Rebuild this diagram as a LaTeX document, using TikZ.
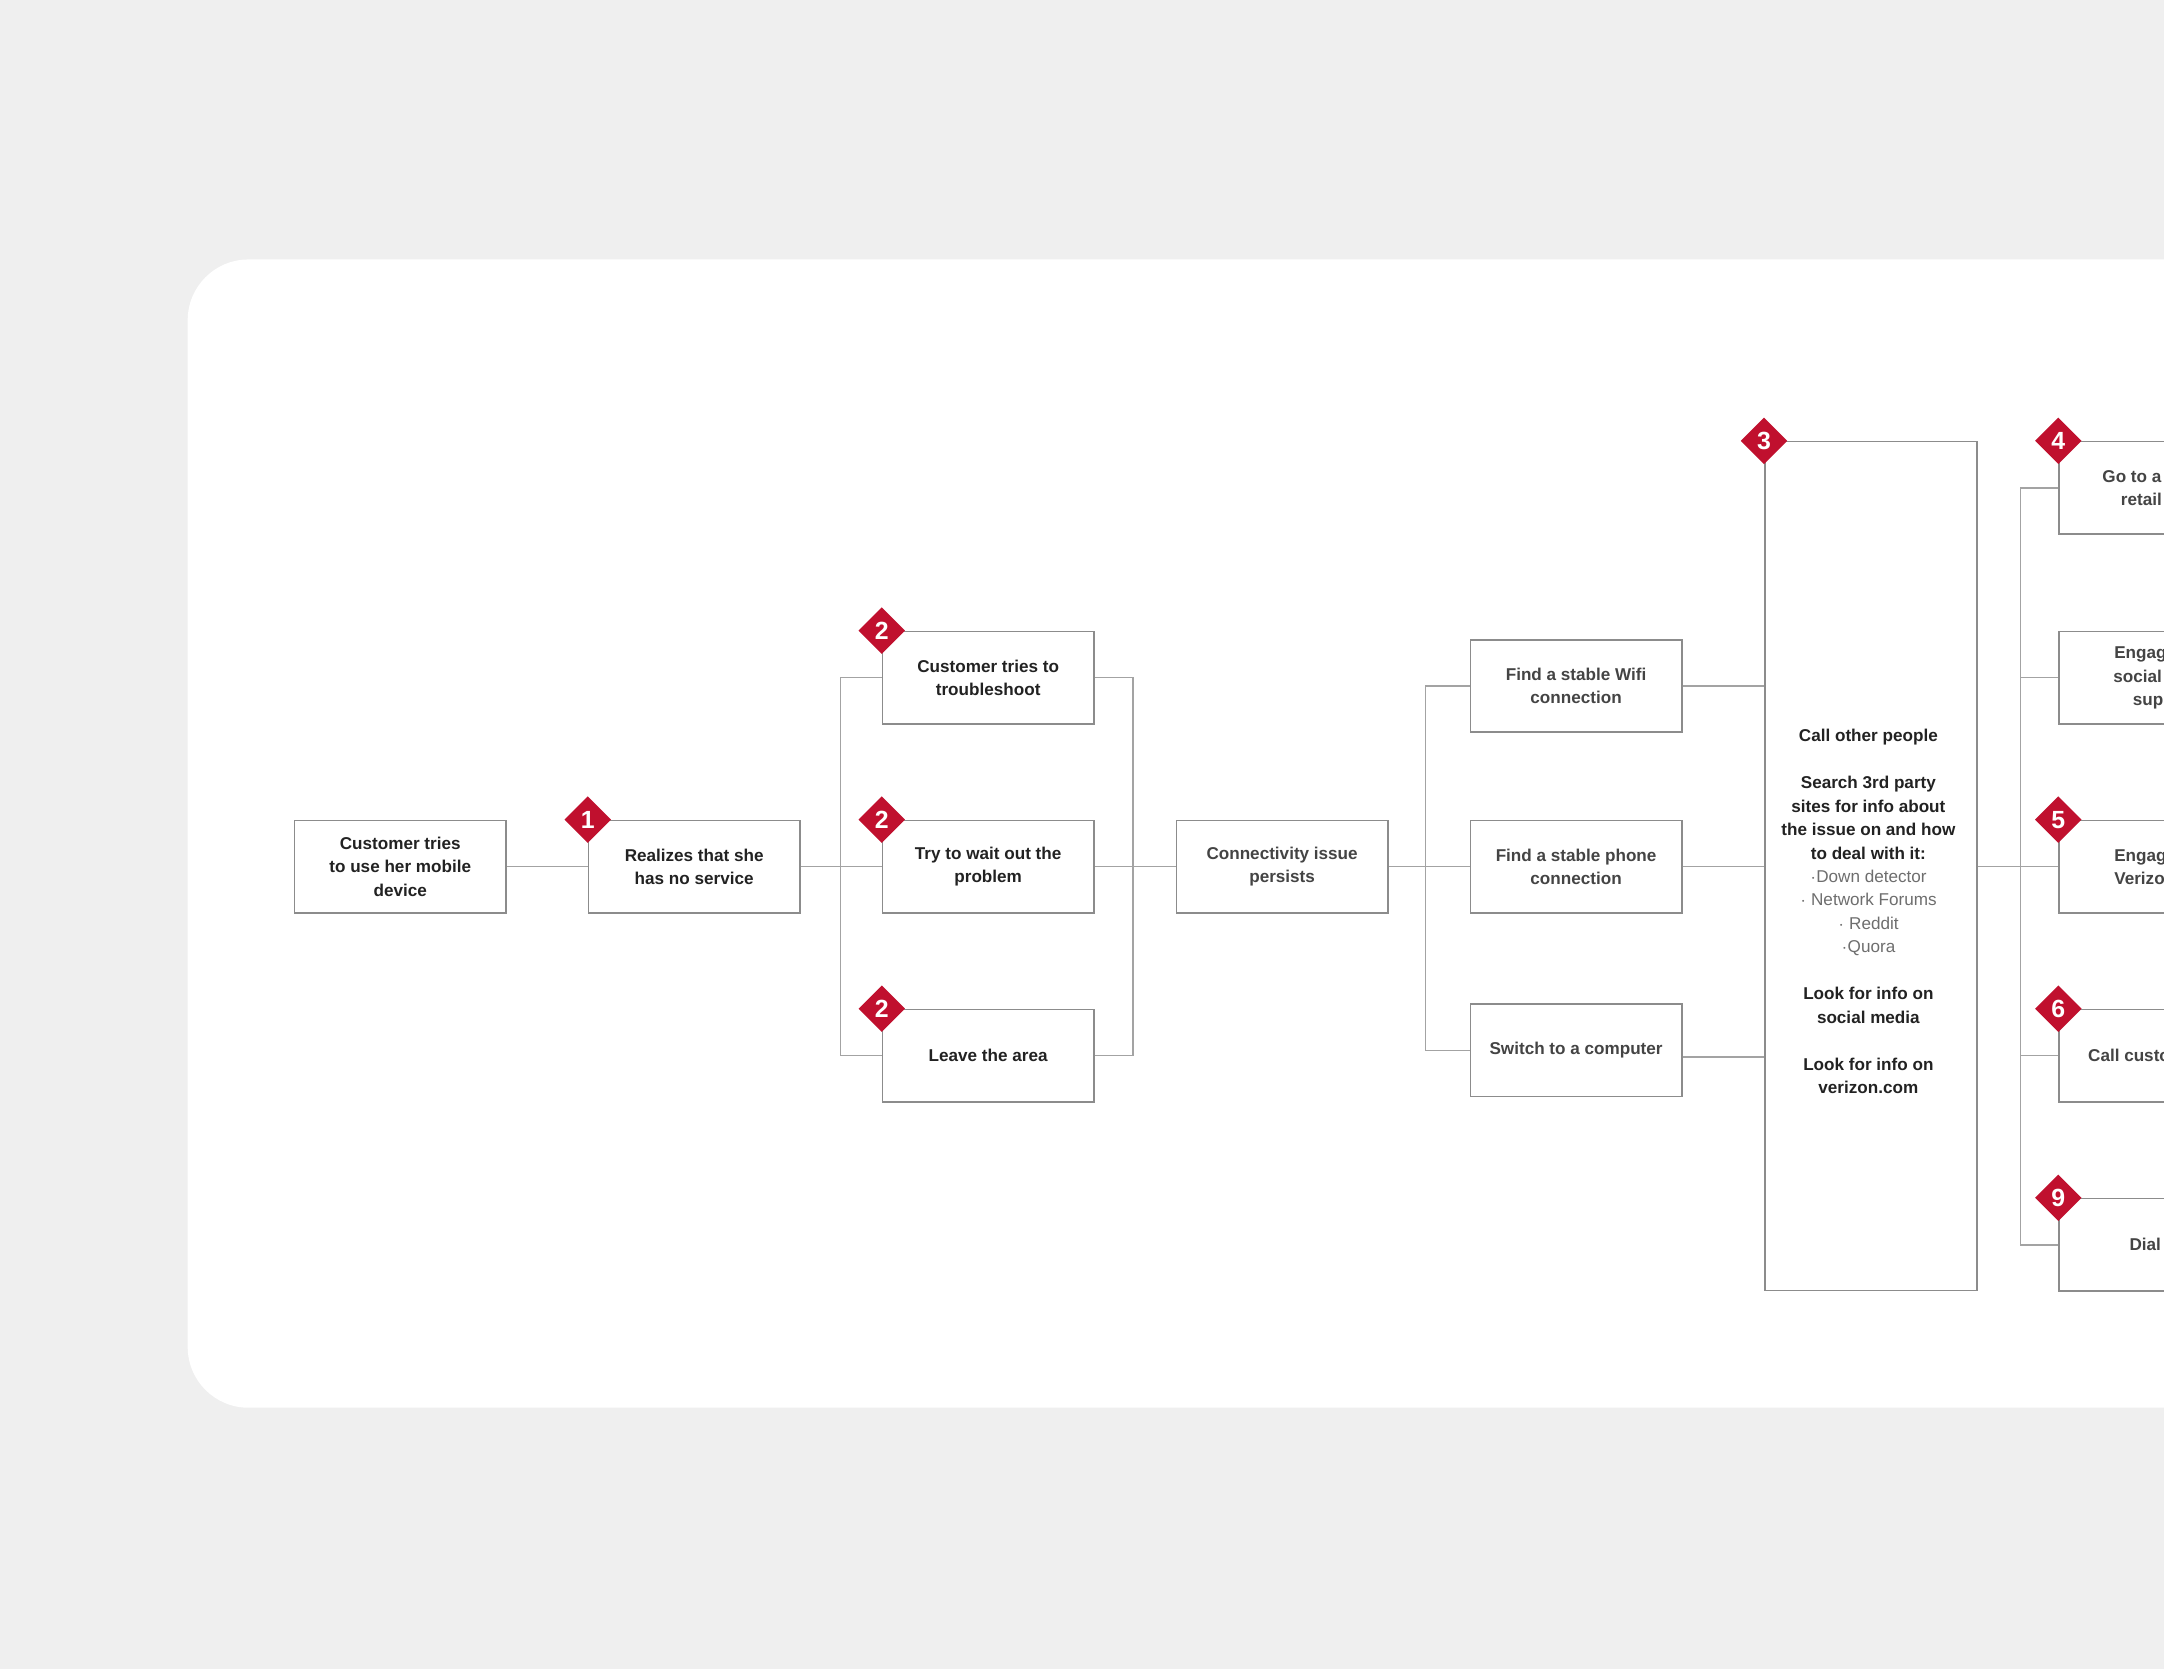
\documentclass[tikz,border=0pt]{standalone}
\usepackage{fontspec}
\setmainfont{Liberation Sans}
\usetikzlibrary{positioning,shapes.geometric}
\definecolor{vzred}{HTML}{C0102E}
\definecolor{pagebg}{HTML}{EFEFEF}
\definecolor{boxline}{HTML}{8C8C8C}
\definecolor{inktxt}{HTML}{222222}
\definecolor{softtxt}{HTML}{444444}
\definecolor{bullettxt}{HTML}{6E6E6E}
\begin{document}
\begin{tikzpicture}[x=0.5pt,y=-0.5pt]
		\tikzset{
  state/.style={
         rectangle,
         draw=boxline, line width=0.6pt,
         fill=white,
         minimum width=76.5pt,
         minimum height=33.5pt,
         inner sep=0,
         align=center,
         text=inktxt,
         font=\fontsize{6.2}{8.5}\selectfont\bfseries,
         },
  soft/.style={text=softtxt},
  link/.style={draw=boxline!80, line width=0.5pt},
  badge/.style={
         diamond,
         fill=vzred,
         minimum size=17pt,
         inner sep=0,
         text=white,
         font=\fontsize{9}{9}\selectfont\bfseries,
         },
}

    \useasboundingbox (0,0) rectangle (1568,1209);
    \fill[pagebg] (0,0) rectangle (1568,1209);

    \begin{scope}
    \clip (0,0) rectangle (1568,1209);
    \fill[white, rounded corners=22pt] (136,188) rectangle (1700,1020);

    % first steps
    \node[state] (cust) at (290,628) {Customer tries\\to use her mobile\\device};
    \node[state] (real) at (503,628) {Realizes that she\\has no service};

    \node[state] (trbl) at (716,491) {Customer tries to\\troubleshoot};
    \node[state] (wait) at (716,628) {Try to wait out the\\problem};
    \node[state] (leave) at (716,765) {Leave the area};

    \node[state,soft] (persist) at (929,628) {Connectivity issue\\persists};

    \node[state,soft] (wifi) at (1142,497) {Find a stable Wifi\\connection};
    \node[state,soft] (phone) at (1142,628) {Find a stable phone\\connection};
    \node[state,soft] (comp) at (1142,761) {Switch to a computer};

    % long box
    \node[state, minimum width=75.5pt, minimum height=307.5pt] (big) at (1355.5,627.5)
    {
      \begin{tabular}{c}
        \rule{0pt}{40pt}Call other people\\[8.5pt]
        Search 3rd party\\
        sites for info about\\
        the issue on and how\\
        to deal with it:\\
        {\mdseries\color{bullettxt}$\cdot$Down detector}\\
        {\mdseries\color{bullettxt}$\cdot$ Network Forums}\\
        {\mdseries\color{bullettxt}$\cdot$ Reddit}\\
        {\mdseries\color{bullettxt}$\cdot$Quora}\\[8.5pt]
        Look for info on\\
        social media\\[8.5pt]
        Look for info on\\
        verizon.com
      \end{tabular}
    };

    % channels
    \node[state,soft] (retail) at (1568.5,353.5) {Go to a Verizon\\retail store};
    \node[state,soft] (social) at (1568.5,491) {Engage with\\social media\\support};
    \node[state,soft] (verizon) at (1568.5,628) {Engage with\\Verizon chat};
    \node[state,soft] (call) at (1568.5,765) {Call customer care};
    \node[state,soft] (dial) at (1568.5,902) {Dial *611};

    \coordinate (lb1) at (609,628);
    \coordinate (rb1) at (821,628);
    \coordinate (lb2) at (1033,628);
    \coordinate (lb3) at (1464,628);

    \path[link] (cust) edge (real);
    \path[link] (real) edge (wait);
    \path[link] (trbl.west) -| (lb1) |- (leave.west);
    \path[link] (trbl.east) -| (rb1) |- (leave.east);
    \path[link] (wait) edge (persist);
    \path[link] (persist) edge (phone);
    \path[link] (wifi.west) -| (lb2) |- (comp.west);
    \path[link] (wifi.east) -- (wifi.east -| big.west);
    \path[link] (phone.east) -- (phone.east -| big.west);
    \path[link] ([yshift=-2.5pt]comp.east) -- ([yshift=-2.5pt]comp.east -| big.west);
    \path[link] (big.east |- lb3) -- (lb3);
    \path[link] (retail.west) -| (lb3) |- (dial.west);
    \path[link] (social.west) -- (social.west -| lb3);
    \path[link] (verizon.west) -- (lb3);
    \path[link] (call.west) -- (call.west -| lb3);

    % step markers
    \node[badge] (b1) at (real.north west) {1};
    \node[badge] (b2a) at (trbl.north west) {2};
    \node[badge] (b2b) at (wait.north west) {2};
    \node[badge] (b2c) at (leave.north west) {2};
    \node[badge] (b3) at (big.north west) {3};
    \node[badge] (b4) at (retail.north west) {4};
    \node[badge] (b5) at (verizon.north west) {5};
    \node[badge] (b6) at (call.north west) {6};
    \node[badge] (b9) at (dial.north west) {9};
    \end{scope}

	\end{tikzpicture}
\end{document}
